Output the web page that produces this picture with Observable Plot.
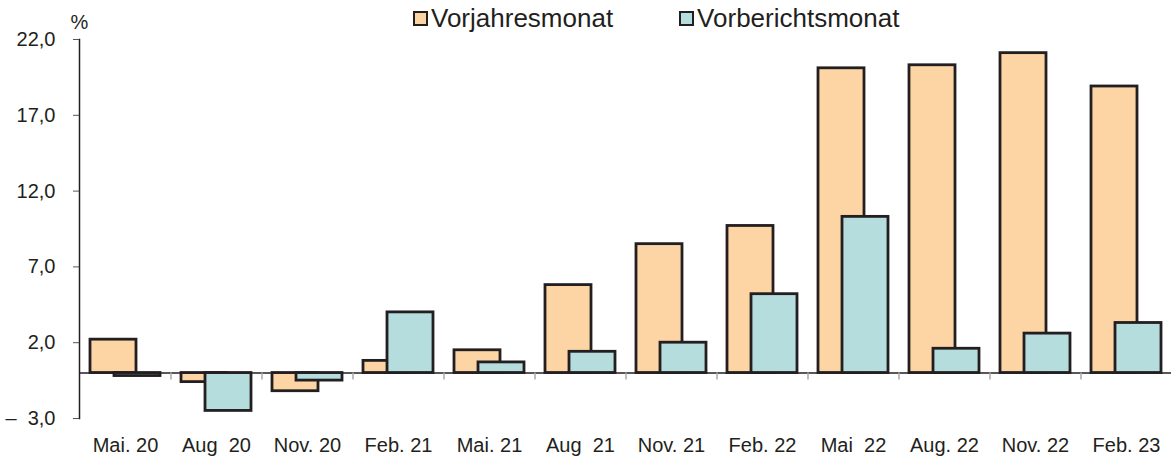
<!DOCTYPE html>
<html>
<head>
<meta charset="utf-8">
<script src="https://cdn.jsdelivr.net/npm/d3@7"></script>
<script src="https://cdn.jsdelivr.net/npm/@observablehq/plot@0.6"></script>
<style>
  html, body { margin: 0; padding: 0; background: #fff; }
  #wrap { position: relative; width: 1171px; height: 459px; font-family: "Liberation Sans", Arial, sans-serif; }
  #legend { position: absolute; top: 3px; left: 413px; display: flex; align-items: center; font-size: 26px; color: #231f20; }
  .sw { width: 11px; height: 11px; border: 2.5px solid #231f20; margin-right: 3px; }
  .item { display: flex; align-items: center; }
</style>
</head>
<body>
<div id="wrap">
  <div id="chart"></div>
  <div id="legend"></div>
</div>
<script>
const categories = ["Mai. 20", "Aug\u00a0\u00a020", "Nov. 20", "Feb. 21", "Mai. 21", "Aug\u00a0\u00a021", "Nov. 21", "Feb. 22", "Mai\u00a0\u00a022", "Aug. 22", "Nov. 22", "Feb. 23"];
const vorjahresmonat = [2.2, -0.6, -1.2, 0.8, 1.5, 5.8, 8.5, 9.7, 20.1, 20.3, 21.1, 18.9];
const vorberichtsmonat = [-0.2, -2.5, -0.5, 4.0, 0.7, 1.4, 2.0, 5.2, 10.3, 1.6, 2.6, 3.3];
const seriesNames = ["Vorjahresmonat", "Vorberichtsmonat"];
const seriesColors = ["#fdd5a4", "#b5dddd"];
const yTicks = [-3, 2, 7, 12, 17, 22];

const dataA = categories.map((c, i) => ({cat: c, value: vorjahresmonat[i]}));
const dataB = categories.map((c, i) => ({cat: c, value: vorberichtsmonat[i]}));

const fmt = d => (d < 0 ? "\u2013\u00a0\u00a0" : "") + Math.abs(d).toFixed(1).replace(".", ",");
const p = 0.495;

const chart = Plot.plot({
  width: 1171,
  height: 459,
  marginLeft: 79,
  marginRight: 0,
  marginTop: 39,
  marginBottom: 41,
  style: {fontFamily: "'Liberation Sans', Arial, sans-serif", fontSize: "20px", color: "#231f20", background: "#fff"},
  x: {domain: categories, paddingInner: p, paddingOuter: p / 2, axis: null},
  y: {domain: [-3, 22], ticks: yTicks, axis: null},
  marks: [
    Plot.barY(dataA, {x: "cat", y: "value", fill: seriesColors[0], stroke: "#231f20", strokeWidth: 2.8, dx: -12}),
    Plot.barY(dataB, {x: "cat", y: "value", fill: seriesColors[1], stroke: "#231f20", strokeWidth: 2.8, dx: 12}),
    Plot.ruleY([0], {stroke: "#231f20", strokeWidth: 1.5}),
    Plot.ruleX(categories.slice(0, -1), {x: d => d, y1: 0, y2: -0.46, dx: 45.5, stroke: "#aaaaaa", strokeWidth: 1.5}),
    Plot.frame({anchor: "left", stroke: "#231f20", strokeWidth: 1.5}),
    Plot.axisY({ticks: yTicks, tickFormat: fmt, tickSize: 6, tickPadding: 18, fontSize: 20, stroke: "#555", label: null}),
    Plot.axisX({tickSize: 0, tickPadding: 19, fontSize: 20, label: null}),
    Plot.text(["%"], {frameAnchor: "top-left", textAnchor: "middle", dy: -25, dx: 0, fontSize: 20, fill: "#231f20"})
  ]
});
document.getElementById("chart").appendChild(chart);

const legend = document.getElementById("legend");
seriesNames.forEach((name, i) => {
  const item = document.createElement("div");
  item.className = "item";
  if (i > 0) item.style.marginLeft = "66px";
  const sw = document.createElement("div");
  sw.className = "sw";
  sw.style.background = seriesColors[i];
  const label = document.createElement("span");
  label.textContent = name;
  item.appendChild(sw);
  item.appendChild(label);
  legend.appendChild(item);
});
</script>
</body>
</html>
